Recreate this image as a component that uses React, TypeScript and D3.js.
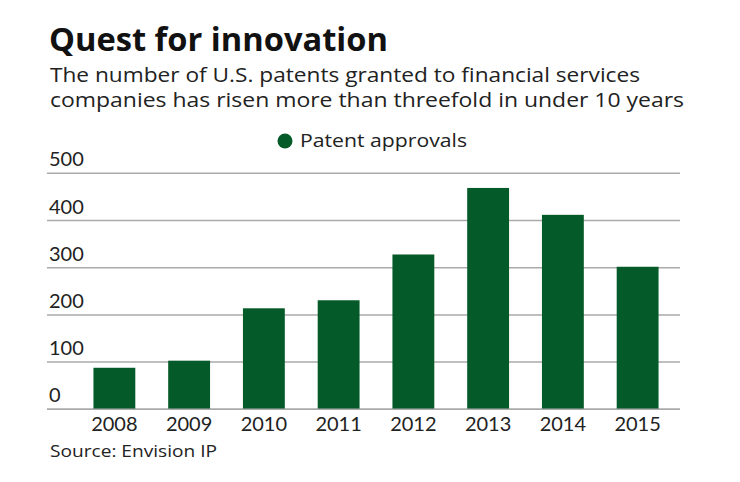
import { scaleBand, scaleLinear } from "d3";

const years = ["2008", "2009", "2010", "2011", "2012", "2013", "2014", "2015"];
const approvals = [88, 103, 214, 231, 328, 469, 412, 302];
const yTicks = [0, 100, 200, 300, 400, 500];

const width = 740;
const height = 482;
const green = "#045a29";
const font = "Lato, 'Open Sans', sans-serif";
const wide = "'Open Sans', Lato, sans-serif";

const App = () => {
  const x = scaleBand<string>()
    .domain(years)
    .range([77, 675])
    .paddingInner(0.44)
    .paddingOuter(0.22);
  const y = scaleLinear().domain([0, 500]).range([409.3, 173.3]);

  return (
    <svg
      width={width}
      height={height}
      style={{ position: "absolute", left: 0, top: 0, background: "#fff" }}
      fontFamily={font}
    >
      <text x={49} y={51} fontSize={32} fontWeight={700} fill="#111" fontFamily={wide}
        textLength={339} lengthAdjust="spacingAndGlyphs">
        Quest for innovation
      </text>
      <text x={50} y={82} fontSize={20} fill="#222" fontFamily={wide}
        textLength={590} lengthAdjust="spacingAndGlyphs">
        The number of U.S. patents granted to financial services
      </text>
      <text x={50} y={107} fontSize={20} fill="#222" fontFamily={wide}
        textLength={634} lengthAdjust="spacingAndGlyphs">
        companies has risen more than threefold in under 10 years
      </text>

      {/* legend */}
      <circle cx={285} cy={141} r={7.5} fill={green} />
      <text x={300} y={147} fontSize={19} fill="#222" fontFamily={wide}
        textLength={167} lengthAdjust="spacingAndGlyphs">
        Patent approvals
      </text>

      {yTicks.map((t) => (
        <g key={t}>
          <line x1={47} x2={680} y1={y(t)} y2={y(t)} stroke="#aaa" strokeWidth={1.5} />
          <text x={49} y={y(t) - 7} fontSize={20} fill="#222">
            {t}
          </text>
        </g>
      ))}

      {years.map((yr, i) => (
        <rect
          key={yr}
          x={x(yr)!}
          width={x.bandwidth()}
          y={y(approvals[i])}
          height={y(0) - y(approvals[i])}
          fill={green}
        />
      ))}
      <line x1={47} x2={680} y1={y(0)} y2={y(0)} stroke="#aaa" strokeWidth={1.5} />

      {years.map((yr) => (
        <text
          key={yr}
          x={x(yr)! + x.bandwidth() / 2}
          y={431}
          fontSize={20}
          textAnchor="middle"
          fill="#222"
        >
          {yr}
        </text>
      ))}

      <text x={50} y={457} fontSize={16} fill="#222" fontFamily={wide}
        textLength={167} lengthAdjust="spacingAndGlyphs">
        Source: Envision IP
      </text>
    </svg>
  );
};

export default App;
